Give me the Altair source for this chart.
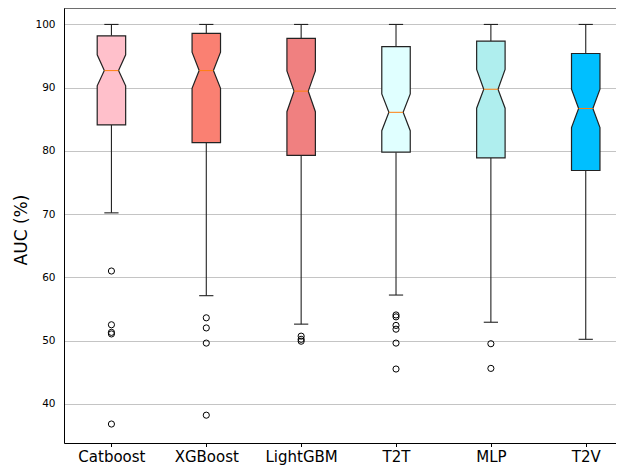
import json
import altair as alt
import pandas as pd

models = ["Catboost", "XGBoost", "LightGBM", "T2T", "MLP", "T2V"]
colors = ["#FFC0CB", "#FA8072", "#F08080", "#E0FFFF", "#AFEEEE", "#00BFFF"]
whisker_lo = [70.2, 57.1, 52.6, 57.2, 52.9, 50.2]
q1 = [84.1, 81.3, 79.3, 79.8, 78.9, 76.9]
notch_lo = [90.3, 89.9, 86.2, 83.2, 86.75, 83.7]
median = [92.7, 92.7, 89.45, 86.1, 89.75, 86.7]
notch_hi = [95.2, 95.6, 92.65, 89.0, 92.9, 89.75]
q3 = [98.2, 98.6, 97.8, 96.5, 97.35, 95.4]
whisker_hi = [100.0, 100.0, 100.0, 100.0, 100.0, 100.0]
outliers = {
    "Catboost": [61.0, 52.5, 51.3, 51.05, 36.8],
    "XGBoost": [53.6, 52.0, 49.6, 38.2],
    "LightGBM": [50.7, 50.2, 49.9],
    "T2T": [54.05, 53.75, 52.4, 51.8, 49.6, 45.5],
    "MLP": [49.5, 45.6],
    "T2V": [],
}
y_ticks = [40, 50, 60, 70, 80, 90, 100]

W = 0.15  # half box width in data units
PW, PH = 552, 435

box_rows, stat_rows, out_rows = [], [], []
for i, m in enumerate(models):
    c = i + 1
    pts = [(q1[i], W), (notch_lo[i], W), (median[i], W / 2), (notch_hi[i], W), (q3[i], W)]
    for k, (yv, hw) in enumerate(pts):
        box_rows.append(dict(model=m, k=k, y=yv, xl=c - hw, xr=c + hw))
    stat_rows.append(dict(model=m, c=c, cl=c - W / 2, cr=c + W / 2,
                          wlo=whisker_lo[i], q1=q1[i], med=median[i], q3=q3[i], whi=whisker_hi[i]))
    for v in outliers[m]:
        out_rows.append(dict(model=m, c=c, v=v))

box_df = pd.DataFrame(box_rows)
stat_df = pd.DataFrame(stat_rows)
out_df = pd.DataFrame(out_rows)

xs = alt.Scale(domain=[0.5, 6.319], nice=False, zero=False)
ys = alt.Scale(domain=[33.8, 102.6], nice=False, zero=False)

label_expr = json.dumps(models) + "[datum.value - 1]"
xaxis = alt.Axis(values=[1, 2, 3, 4, 5, 6], labelExpr=label_expr, grid=False, tickSize=3.5,
                 tickColor="black", domainColor="black", labelFontSize=15, labelPadding=3,
                 labelColor="black", labelOverlap=False, labelFlush=False, title=None)
yaxis = alt.Axis(values=y_ticks, grid=True, gridColor="#c4c4c4", gridWidth=1, ticks=False,
                 labelPadding=9, labelFontSize=10.5, labelColor="black", domainColor="black",
                 title="AUC (%)", titleFontSize=17, titleFontWeight="normal", titleColor="black",
                 titleAngle=270, titleX=-43, titleY=221.5, titleBaseline="middle", titleAlign="center")


def X(field):
    return alt.X(field, type="quantitative", scale=xs, axis=xaxis, stack=None)


def Y(field):
    return alt.Y(field, type="quantitative", scale=ys, axis=yaxis)


dark = "#222222"
base = alt.Chart(stat_df)

whisk_hi = base.mark_rule(color=dark, strokeWidth=1.1).encode(x=X("c"), y=Y("q3"), y2="whi")
whisk_lo = base.mark_rule(color=dark, strokeWidth=1.1).encode(x=X("c"), y=Y("wlo"), y2="q1")
cap_hi = base.mark_rule(color=dark, strokeWidth=1.1).encode(x=X("cl"), x2="cr", y=Y("whi"))
cap_lo = base.mark_rule(color=dark, strokeWidth=1.1).encode(x=X("cl"), x2="cr", y=Y("wlo"))

boxes = alt.Chart(box_df).mark_area(orient="horizontal", stroke=dark, strokeWidth=1.2, opacity=1,
                                    fillOpacity=1).encode(
    y=Y("y"),
    x=X("xl"),
    x2="xr",
    fill=alt.Fill("model:N", scale=alt.Scale(domain=models, range=colors), legend=None),
    detail="model:N",
)

med = base.mark_rule(color="#ff7f0e", strokeWidth=1).encode(x=X("cl"), x2="cr", y=Y("med"))

pts = alt.Chart(out_df).mark_point(shape="circle", filled=False, size=38, stroke="black",
                                   strokeWidth=1, opacity=1).encode(x=X("c"), y=Y("v"))

top = alt.Chart(pd.DataFrame({"a": [0]})).mark_rule(color="black", strokeWidth=1).encode(
    y=alt.value(0), x=alt.value(0), x2=alt.value(PW))

chart = alt.layer(whisk_hi, whisk_lo, cap_hi, cap_lo, boxes, med, pts, top).properties(
    width=PW, height=PH, autosize="none",
    padding={"left": 56, "top": 0, "right": 0, "bottom": 26},
).configure_view(stroke=None).configure(font="DejaVu Sans")

chart.save("out.html", embed_options={"renderer": "svg", "actions": False})
